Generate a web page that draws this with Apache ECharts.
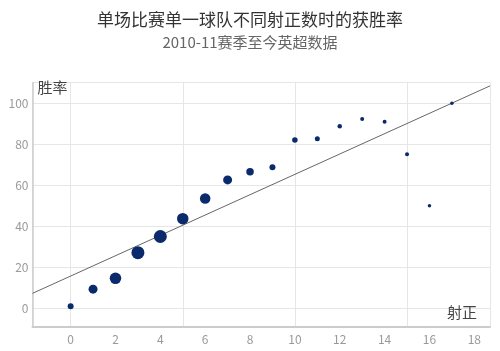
<!DOCTYPE html>
<html>
<head>
<meta charset="utf-8">
<script src="https://cdn.jsdelivr.net/npm/echarts@6/dist/echarts.min.js"></script>
<style>html,body{margin:0;padding:0;background:#fff;}#c{width:500px;height:351px;}</style>
</head>
<body>
<div id="c"></div>
<script>
const shotsOnTarget = [0,1,2,3,4,5,6,7,8,9,10,11,12,13,14,15,16,17];
const winRate = [1,9.3,14.6,27.1,35,43.7,53.5,62.6,66.6,68.8,82.1,82.7,88.8,92.3,91,75.1,50,100];
const markerSize = [6,9,11.5,13,13,11.5,10.5,9,7.5,6,5.5,5,4.5,4,4,4,3.5,3.5];
const trend = {intercept: 15.7, slope: 4.96};
const xTicks = [0,2,4,6,8,10,12,14,16,18];
const yTicks = [0,20,40,60,80,100];
const xRange = [-1.7, 18.7];
const yRange = [-9, 110];

const chart = echarts.init(document.getElementById('c'));
const font = '"Noto Sans CJK SC", "Noto Sans", sans-serif';
const pts = shotsOnTarget.map((x,i)=>[x, winRate[i], markerSize[i]]);
const lineData = xRange.map(x=>[x, trend.intercept + trend.slope*x]);
chart.setOption({
  animation:false,
  textStyle:{fontFamily:font},
  title:{
    text:'单场比赛单一球队不同射正数时的获胜率',
    subtext:'2010-11赛季至今英超数据',
    left:'center', top:6, itemGap:7,
    textStyle:{fontSize:17, fontWeight:'normal', color:'#333', fontFamily:font},
    subtextStyle:{fontSize:15, color:'#666', fontFamily:font}
  },
  grid:{left:32.5, right:10, top:82.7, bottom:24.3, containLabel:false},
  xAxis:{
    type:'value', min:xRange[0], max:xRange[1],
    name:'射正', nameLocation:'end', nameGap:-13,
    nameTextStyle:{align:'right', verticalAlign:'bottom', padding:[0,0,7,0], fontSize:15, color:'#444'},
    axisLine:{show:true, onZero:false, lineStyle:{color:'#ccc', width:2}},
    axisTick:{show:false},
    axisLabel:{color:'#999', fontSize:12, margin:7, customValues:xTicks, formatter:v=>String(v)},
    splitLine:{show:true, lineStyle:{color:'#e6e6e6'}, customValues:xTicks},
    axisPointer:{show:false}
  },
  yAxis:{
    type:'value', min:yRange[0], max:yRange[1],
    name:'胜率', nameLocation:'end', nameGap:-5,
    nameTextStyle:{align:'left', verticalAlign:'middle', padding:[0,0,0,5], fontSize:15, color:'#444'},
    axisLine:{show:true, onZero:false, lineStyle:{color:'#ccc', width:1.5}},
    axisTick:{show:false},
    axisLabel:{color:'#999', fontSize:12, margin:4, customValues:yTicks},
    splitLine:{show:true, lineStyle:{color:'#e6e6e6'}, customValues:yTicks}
  },
  series:[
    {type:'line', data:lineData, symbol:'none', lineStyle:{color:'#666', width:1}, z:1, silent:true},
    {type:'scatter', data:pts, symbolSize:d=>d[2], itemStyle:{color:'#0a2a6c', opacity:1}, z:2}
  ]
});
</script>
</body>
</html>
